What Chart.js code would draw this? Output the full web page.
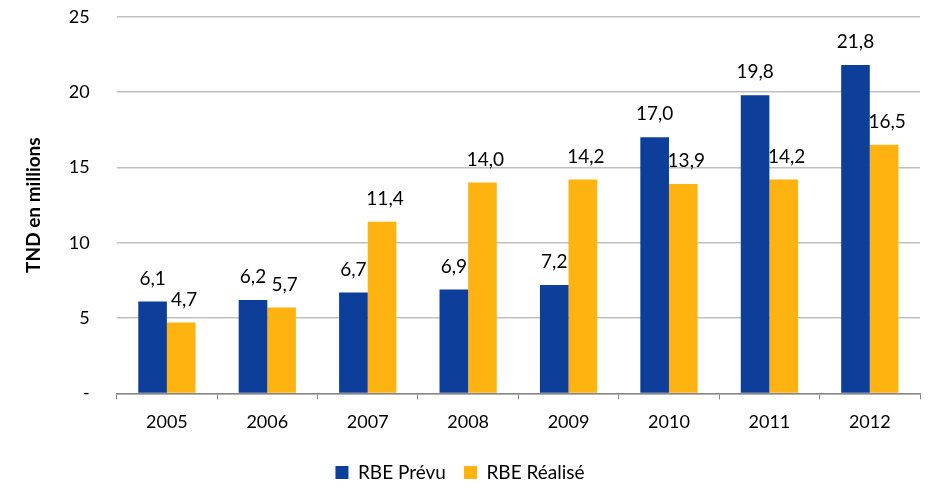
<!DOCTYPE html>
<html>
<head>
<meta charset="utf-8">
<script src="https://cdn.jsdelivr.net/npm/chart.js@4/dist/chart.umd.min.js"></script>
<style>
  html, body { margin: 0; padding: 0; background: #fff; }
  #wrap { width: 937px; height: 489px; }
</style>
</head>
<body>
<div id="wrap"><canvas id="chart" width="937" height="489"></canvas></div>
<script>
const years = ['2005', '2006', '2007', '2008', '2009', '2010', '2011', '2012'];
const prevu = [6.1, 6.2, 6.7, 6.9, 7.2, 17.0, 19.8, 21.8];
const realise = [4.7, 5.7, 11.4, 14.0, 14.2, 13.9, 14.2, 16.5];
const yTicks = [0, 5, 10, 15, 20, 25];

const FONT = 'Lato, "Open Sans", sans-serif';

// value labels above each bar, french decimal comma
const valueLabels = {
  id: 'valueLabels',
  afterDatasetsDraw(chart) {
    const ctx = chart.ctx;
    ctx.save();
    ctx.font = '19px ' + FONT;
    ctx.fillStyle = '#000';
    ctx.textAlign = 'center';
    ctx.textBaseline = 'middle';
    chart.data.datasets.forEach((ds, i) => {
      chart.getDatasetMeta(i).data.forEach((bar, j) => {
        const txt = ds.data[j].toFixed(1).replace('.', ',');
        ctx.fillText(txt, bar.x + (i === 1 ? 3 : 0), bar.y - 23);
      });
    });
    ctx.restore();
  }
};

new Chart(document.getElementById('chart'), {
  type: 'bar',
  data: {
    labels: years,
    datasets: [
      { label: 'RBE Prévu', data: prevu, backgroundColor: '#0D3E99', borderWidth: 0 },
      { label: 'RBE Réalisé', data: realise, backgroundColor: '#FFB311', borderWidth: 0 }
    ]
  },
  options: {
    responsive: false,
    animation: false,
    layout: { padding: { top: 0, right: 17, left: 0, bottom: -3 } },
    datasets: { bar: { categoryPercentage: 0.57, barPercentage: 1.0 } },
    plugins: {
      legend: {
        position: 'bottom',
        labels: {
          font: { family: FONT, size: 19 },
          color: '#000',
          boxWidth: 13,
          boxHeight: 13,
          padding: 18
        }
      },
      tooltip: { enabled: false }
    },
    scales: {
      x: {
        grid: {
          offset: true,
          drawOnChartArea: false,
          drawTicks: true,
          tickLength: 6,
          color: '#868686'
        },
        border: { display: true, color: '#868686', width: 1.5 },
        ticks: { font: { family: FONT, size: 18 }, color: '#000', padding: 12 }
      },
      y: {
        min: 0,
        max: 25,
        afterBuildTicks(axis) { axis.ticks = yTicks.map(v => ({ value: v })); },
        grid: { color: '#c0c0c0', lineWidth: 1.5, drawTicks: true, tickLength: 21, tickColor: 'rgba(0,0,0,0)' },
        border: { display: false },
        title: {
          display: true,
          text: 'TND en millions',
          font: { family: FONT, size: 19, weight: 'bold' },
          color: '#000',
          padding: { top: 22, bottom: 18 }
        },
        ticks: {
          font: { family: FONT, size: 18 },
          color: '#000',
          padding: 6,
          callback: v => v === 0 ? '-' : v
        }
      }
    }
  },
  plugins: [valueLabels]
});
</script>
</body>
</html>
